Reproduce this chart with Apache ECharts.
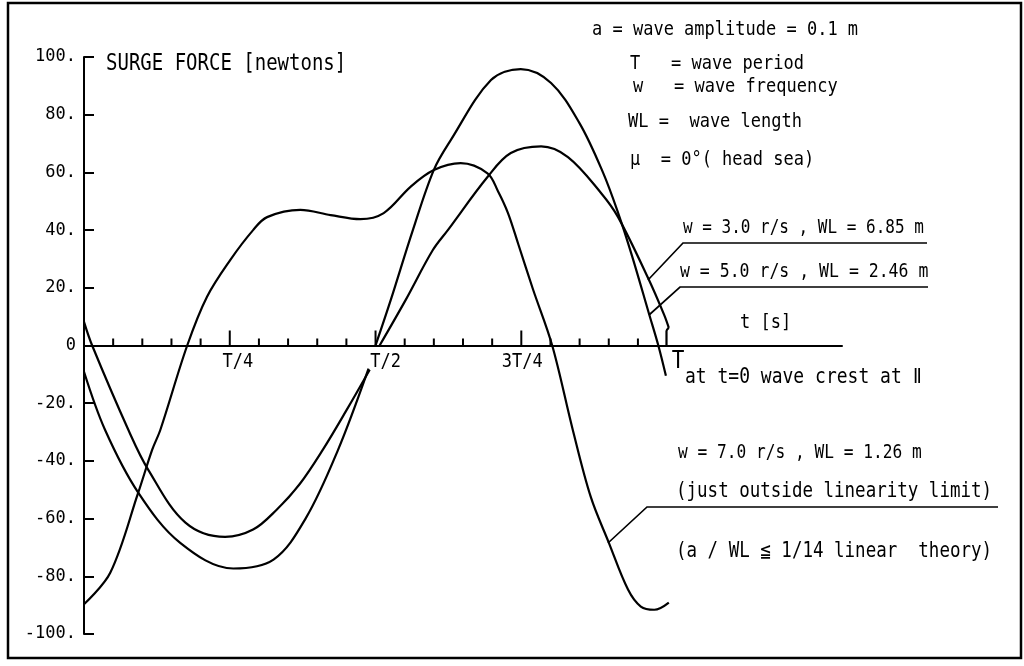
<!DOCTYPE html>
<html>
<head>
<meta charset="utf-8">
<script src="https://cdn.jsdelivr.net/npm/echarts@6/dist/echarts.min.js"></script>
<style>
  html, body { margin: 0; padding: 0; background: #fff; }
  #chart { width: 1024px; height: 666px; }
</style>
</head>
<body>
<div id="chart"></div>
<script>
// Surge force over one wave period. Time is a fraction of the period T,
// force is in newtons. Each curve is stored as [t, force] pairs.

// w = 3.0 r/s, WL = 6.85 m
const w3FirstHalf = [[0, 8.2], [0.014, 0], [0.076, -29.2], [0.110, -43], [0.174, -61.4], [0.242, -66.3],
  [0.290, -63.8], [0.330, -57], [0.370, -48], [0.410, -36], [0.450, -22.5], [0.490, -8.4]];
const w3SecondHalf = [[0.507, 0], [0.552, 15.9], [0.598, 33], [0.624, 40], [0.692, 58.4], [0.732, 66.7],
  [0.784, 69], [0.830, 65.3], [0.887, 52.8], [0.916, 44.5], [0.969, 22.7], [0.995, 10.6], [1.003, 6.1]];
const w3EndStep = [[1.003, 6.1], [0.999, 5.0], [0.999, 0]];

// w = 5.0 r/s, WL = 2.46 m
const w5FirstHalf = [[0, -9.1], [0.036, -29.2], [0.093, -51], [0.165, -68.4], [0.256, -77.3], [0.325, -74.2],
  [0.380, -60], [0.435, -36.5], [0.488, -8]];
const w5SecondHalf = [[0.500, 0], [0.526, 15.7], [0.564, 40], [0.600, 60.9], [0.629, 71.2],
  [0.698, 92], [0.749, 95.8], [0.801, 91], [0.850, 77], [0.890, 60], [0.916, 46], [0.940, 31],
  [0.969, 11], [0.985, 0], [0.998, -10.5]];

// w = 7.0 r/s, WL = 1.26 m
const w7Curve = [[0, -89.7], [0.045, -78.8], [0.093, -51], [0.117, -36.1], [0.131, -29.2], [0.177, 0],
  [0.211, 16.9], [0.251, 29.7], [0.290, 40], [0.314, 44.5], [0.371, 47], [0.423, 45.2], [0.474, 43.8],
  [0.514, 45.9], [0.560, 55], [0.600, 60.8], [0.646, 63.2], [0.692, 59.7], [0.710, 53.5], [0.727, 46],
  [0.745, 35], [0.770, 19.5], [0.803, 0], [0.838, -29], [0.869, -52.4], [0.900, -68.3], [0.933, -84.6],
  [0.955, -90.5], [0.978, -91.6], [1.003, -89.1]];

// time axis ticks (twentieths of the period) and the labelled quarters
const tickTimes = [0.05, 0.1, 0.15, 0.2, 0.25, 0.3, 0.35, 0.4, 0.45, 0.5,
  0.55, 0.6, 0.65, 0.7, 0.75, 0.8, 0.85, 0.9, 0.95];
const quarterTimes = [0.25, 0.5, 0.75, 1];
const quarterLabels = ['T/4', 'T/2', '3T/4', 'T'];

// label styling for the quarter marks: horizontal nudge and font size
const quarterNudge = [8, 10, 1, 11];
const quarterFont = [17, 17, 17, 21];

const INK = '#000';
const MONO = '"DejaVu Sans Mono", "Liberation Mono", monospace';
const TALL = 1.18;

function curve(data) {
  return {
    type: 'line', data: data, showSymbol: false, symbol: 'none', smooth: 0.35,
    lineStyle: { color: INK, width: 2.2 }, silent: true, z: 4
  };
}

function note(text, x, y, size) {
  return {
    type: 'text', x: x, y: y, scaleY: TALL, silent: true,
    style: { text: text, fill: INK, font: size + 'px ' + MONO, verticalAlign: 'middle', align: 'left' }
  };
}

function leader(points) {
  return { type: 'polyline', silent: true, shape: { points: points },
    style: { stroke: INK, lineWidth: 1.7, fill: null } };
}

const chart = echarts.init(document.getElementById('chart'), null, { renderer: 'canvas' });

chart.setOption({
  animation: false,
  backgroundColor: '#fff',
  grid: { left: 84, right: 182, top: 57, bottom: 32, containLabel: false },
  xAxis: {
    type: 'value', min: 0, max: 1.3,
    axisLine: { onZero: true, lineStyle: { color: INK, width: 2 } },
    axisTick: { show: false },
    axisLabel: { show: false },
    splitLine: { show: false }
  },
  yAxis: {
    type: 'value', min: -100, max: 100, interval: 20,
    axisLine: { onZero: false, lineStyle: { color: INK, width: 2 } },
    axisTick: { show: true, inside: true, length: 10, lineStyle: { color: INK, width: 2 } },
    splitLine: { show: false },
    axisLabel: {
      margin: 8, color: INK, fontFamily: MONO, fontSize: 17,
      formatter: function (v) { return v === 0 ? '0' : v + '.'; }
    }
  },
  series: [
    curve(w3FirstHalf), curve(w3SecondHalf), curve(w3EndStep),
    curve(w5FirstHalf), curve(w5SecondHalf),
    curve(w7Curve),
    {
      // tick marks on the time axis, taller at the quarter periods
      type: 'custom', silent: true, z: 3,
      data: tickTimes.map(function (t) { return [t, 0]; }),
      renderItem: function (params, api) {
        const t = api.value(0);
        const p = api.coord([t, 0]);
        const len = quarterTimes.indexOf(t) >= 0 ? 15 : 7;
        return { type: 'line', shape: { x1: p[0], y1: p[1], x2: p[0], y2: p[1] - len },
          style: { stroke: INK, lineWidth: 2 } };
      }
    },
    {
      // quarter-period labels just under the time axis
      type: 'custom', silent: true, z: 3,
      data: quarterTimes.map(function (t) { return [t, 0]; }),
      renderItem: function (params, api) {
        const i = params.dataIndex;
        const p = api.coord([api.value(0), 0]);
        return { type: 'text', x: p[0] + quarterNudge[i], y: p[1] + 16, scaleY: TALL,
          style: { text: quarterLabels[i], fill: INK, font: quarterFont[i] + 'px ' + MONO,
            align: 'center', verticalAlign: 'middle' } };
      }
    }
  ],
  graphic: [
    { type: 'rect', silent: true, shape: { x: 8, y: 3, width: 1013, height: 655 },
      style: { stroke: INK, lineWidth: 2.5, fill: null } },
    note('SURGE FORCE [newtons]', 106, 64, 19),
    note('a = wave amplitude = 0.1 m', 592, 30, 17),
    note('T   = wave period', 630, 64, 17),
    note('w   = wave frequency', 633, 87, 17),
    note('WL =  wave length', 628, 122, 17),
    note('\u03bc  = 0\u00b0( head sea)', 630, 160, 17),
    note('w = 3.0 r/s , WL = 6.85 m', 683, 228, 16),
    note('w = 5.0 r/s , WL = 2.46 m', 680, 272, 16.5),
    note('t [s]', 740, 323, 17),
    note('at t=0 wave crest at \u2161', 685, 377, 18),
    note('w = 7.0 r/s , WL = 1.26 m', 678, 453, 16.2),
    note('(just outside linearity limit)', 676, 492, 17.5),
    note('(a / WL \u2266 1/14 linear  theory)', 676, 552, 17.5),
    leader([[927, 243], [683, 243], [648, 280]]),
    leader([[928, 287], [680, 287], [649, 315]]),
    leader([[998, 507], [647, 507], [608, 543]])
  ]
});
</script>
</body>
</html>
